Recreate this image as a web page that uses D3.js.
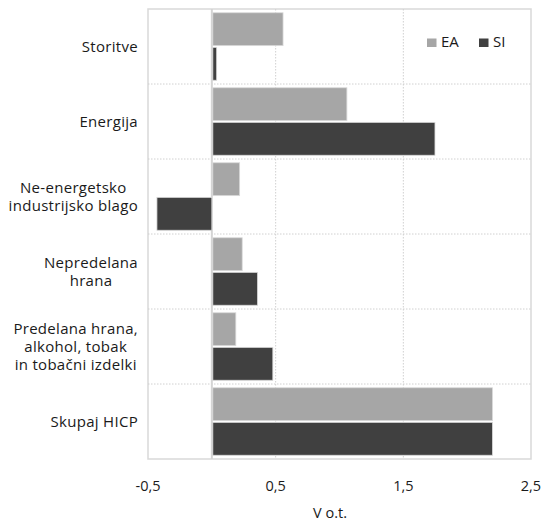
<!DOCTYPE html>
<html><head><meta charset="utf-8">
<script src="https://cdn.jsdelivr.net/npm/d3@7"></script>
<style>body{margin:0;background:#fff}svg{display:block}text{font-family:"Open Sans",sans-serif;fill:#1a1a1a}</style>
</head><body><svg id="c" width="543" height="522"></svg>
<script>
const categories = ["Storitve", "Energija", "Ne-energetsko\nindustrijsko blago", "Nepredelana\nhrana", "Predelana hrana,\nalkohol, tobak\nin tobačni izdelki", "Skupaj HICP"];
const seriesNames = ["EA", "SI"];
const valuesEA = [0.55, 1.05, 0.21, 0.23, 0.18, 2.19];
const valuesSI = [0.03, 1.74, -0.43, 0.35, 0.47, 2.19];
const xTicks = [-0.5, 0.5, 1.5, 2.5];
const xTickLabels = ["-0,5", "0,5", "1,5", "2,5"];
const axisTitle = "V o.t.";
const colors = ["#a6a6a6", "#404040"];

const svg = d3.select("#c");
const m = {l:148, r:531, t:9, b:459};
const x = d3.scaleLinear().domain([-0.5, 2.5]).range([m.l, m.r]);
const y = d3.scaleBand().domain(categories).range([m.t, m.b]).paddingInner(0.1).paddingOuter(0.05);
const y0 = d3.scaleBand().domain(categories).range([m.t, m.b]);
const ys = d3.scaleBand().domain(seriesNames).range([0, y.bandwidth()]).paddingInner(0.05);

// frame
svg.append("rect").attr("x", m.l).attr("y", m.t).attr("width", m.r-m.l).attr("height", m.b-m.t)
  .attr("fill","none").attr("stroke","#d9d9d9").attr("stroke-width",1.5);
// vertical grid
svg.append("g").selectAll("line").data([0.5,1.5]).join("line")
  .attr("x1", d=>x(d)).attr("x2", d=>x(d)).attr("y1", m.t).attr("y2", m.b)
  .attr("stroke","#d0d0d0").attr("stroke-dasharray","1.5,1.5");
// horizontal grid between categories
svg.append("g").selectAll("line").data(categories.slice(1)).join("line")
  .attr("x1", m.l).attr("x2", m.r).attr("y1", d=>y0(d)).attr("y2", d=>y0(d))
  .attr("stroke","#d0d0d0").attr("stroke-dasharray","1.5,1.5");
// zero line
svg.append("line").attr("x1", x(0)).attr("x2", x(0)).attr("y1", m.t).attr("y2", m.b)
  .attr("stroke","#d4d4d4").attr("stroke-width",2);

// bars
const data = categories.map((c,i)=>({c, v:[valuesEA[i], valuesSI[i]]}));
const g = svg.append("g").selectAll("g").data(data).join("g")
  .attr("transform", d=>`translate(0,${y0(d.c) + (y0.bandwidth()-y.bandwidth())/2})`);
g.selectAll("rect").data(d=>d.v.map((v,j)=>({v, s:seriesNames[j], j}))).join("rect")
  .attr("x", d=>x(Math.min(0,d.v))+ (d.v>=0?1:0)).attr("width", d=>Math.abs(x(d.v)-x(0)))
  .attr("y", d=>ys(d.s)).attr("height", ys.bandwidth())
  .attr("fill", d=>colors[d.j]).attr("stroke","#d9d9d9").attr("stroke-width",0.8);

// category labels
const lab = svg.append("g");
categories.forEach(c=>{
  const lines = c.split("\n");
  const t = lab.append("text").attr("font-size",15).attr("letter-spacing",0.3).attr("text-anchor","middle");
  const lh = 18;
  const cy = y0(c) + y0.bandwidth()/2;
  lines.forEach((ln,i)=>{
    t.append("tspan").attr("dy", i===0 ? 0 : lh).text(ln);
  });
  let maxW = 0;
  t.selectAll("tspan").each(function(){ maxW = Math.max(maxW, this.getComputedTextLength()); });
  const cx = 138 - maxW/2;
  t.selectAll("tspan").attr("x", cx);
  t.attr("y", cy - (lines.length-1)*lh/2 + 5);
});

// x axis labels
svg.append("g").selectAll("text").data(xTicks).join("text")
  .attr("x", d=>x(d)).attr("y", 491).attr("text-anchor","middle").attr("font-size",14.5)
  .text((d,i)=>xTickLabels[i]);
svg.append("text").attr("x", 330).attr("y", 518).attr("text-anchor","middle").attr("font-size",14.5).text(axisTitle);

// legend
const lg = svg.append("g");
const lx = [427, 479];
seriesNames.forEach((s,i)=>{
  lg.append("rect").attr("x", lx[i]).attr("y", 38.5).attr("width", 9.5).attr("height", 8.5).attr("fill", colors[i]);
  lg.append("text").attr("x", lx[i]+14).attr("y", 47).attr("font-size",15).text(s);
});
</script></body></html>
